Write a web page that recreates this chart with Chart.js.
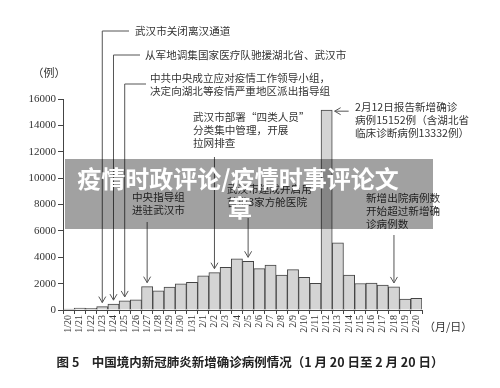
<!DOCTYPE html>
<html>
<head>
<meta charset="utf-8">
<script src="https://cdn.jsdelivr.net/npm/chart.js@4"></script>
<style>
  html, body { margin: 0; padding: 0; background: #fff; }
  canvas { display: block; }
</style>
</head>
<body>
<canvas id="casesChart" width="500" height="388"></canvas>
<script>
const days = [
    '1/20', '1/21', '1/22', '1/23', '1/24', '1/25', '1/26', '1/27', '1/28', '1/29', '1/30', '1/31',
    '2/1', '2/2', '2/3', '2/4', '2/5', '2/6', '2/7', '2/8', '2/9', '2/10',
    '2/11', '2/12', '2/13', '2/14', '2/15', '2/16', '2/17', '2/18', '2/19', '2/20'
];
const newCases = [
    77, 149, 131, 259, 444, 688, 769, 1771, 1459, 1737, 1982, 2102,
    2590, 2829, 3235, 3887, 3694, 3143, 3399, 2656, 3062, 2478,
    2015, 15152, 5090, 2641, 2009, 2048, 1886, 1749, 820, 889
];
const yTicks = [0, 2000, 4000, 6000, 8000, 10000, 12000, 14000, 16000];

const cjk = '"Noto Sans CJK SC", sans-serif';
const serif = '"Liberation Serif", "DejaVu Serif", serif';

// notes: text lines, where they sit, and which bar the arrow points at
const notes = [
    { lines: ['武汉市关闭离汉通道'], x: 135, y: 31, day: '1/23', elbow: [103, 31, 129] },
    { lines: ['从军地调集国家医疗队驰援湖北省、武汉市'], x: 145, y: 55, day: '1/24', elbow: [114, 55, 140] },
    { lines: ['中共中央成立应对疫情工作领导小组，', '决定向湖北等疫情严重地区派出指导组'], x: 150, y: 78, day: '1/25', elbow: [125, 84, 146] },
    { lines: ['中央指导组', '进驻武汉市'], x: 132, y: 197, day: '1/27', from: 222 },
    { lines: ['武汉市部署“四类人员”', '分类集中管理，开展', '拉网排查'], x: 193, y: 117, day: '2/2', from: 157 },
    { lines: ['武汉市建成并启用', '首批3家方舱医院'], x: 227, y: 189, day: '2/5', from: 218 },
    { lines: ['2月12日报告新增确诊', '病例15152例（含湖北省', '临床诊断病例13332例）'], x: 355, y: 107, day: '2/12', side: true },
    { lines: ['新增出院病例数', '开始超过新增确', '诊病例数'], x: 366, y: 198, day: '2/18', from: 235 }
];

const arrowHead = (ctx, x, y, dir) => {
    ctx.beginPath();
    if (dir === 'down') {
        ctx.moveTo(x - 3.5, y - 6); ctx.lineTo(x, y); ctx.lineTo(x + 3.5, y - 6);
    } else {
        ctx.moveTo(x + 6, y - 3.5); ctx.lineTo(x, y); ctx.lineTo(x + 6, y + 3.5);
    }
    ctx.stroke();
};

const notesPlugin = {
    id: 'notes',
    afterDraw(chart) {
        const ctx = chart.ctx;
        const xs = chart.scales.x;
        const ys = chart.scales.y;
        ctx.save();

        // axis captions
        ctx.fillStyle = '#333';
        ctx.font = '11px ' + cjk;
        ctx.textBaseline = 'middle';
        ctx.textAlign = 'center';
        ctx.fillText('（例）', 49, 73);
        ctx.textAlign = 'left';
        ctx.fillText('（月/日）', 424, 327);

        // annotations
        ctx.strokeStyle = '#555';
        ctx.lineWidth = 1;
        notes.forEach(n => {
            ctx.font = '10.6px ' + cjk;
            ctx.fillStyle = '#333';
            ctx.textAlign = 'left';
            n.lines.forEach((t, i) => ctx.fillText(t, n.x, n.y + i * 13));

            const i = days.indexOf(n.day);
            const bx = xs.getPixelForValue(i);
            const top = ys.getPixelForValue(newCases[i]);
            if (n.side) {
                const ax = bx + 8;
                ctx.beginPath();
                ctx.moveTo(ax + 14, top + 1);
                ctx.lineTo(ax, top + 1);
                ctx.stroke();
                arrowHead(ctx, ax, top + 1, 'left');
                return;
            }
            const tip = top - 4;
            ctx.beginPath();
            if (n.elbow) {
                ctx.moveTo(n.elbow[2], n.elbow[1]);
                ctx.lineTo(bx, n.elbow[1]);
                ctx.lineTo(bx, tip);
            } else {
                ctx.moveTo(bx, n.from);
                ctx.lineTo(bx, tip);
            }
            ctx.stroke();
            arrowHead(ctx, bx, tip, 'down');
        });

        // caption
        ctx.fillStyle = '#222';
        ctx.font = 'bold 12.5px ' + cjk;
        ctx.textAlign = 'center';
        ctx.fillText('图 5　中国境内新冠肺炎新增确诊病例情况（1 月 20 日至 2 月 20 日）', 250, 362);

        // watermark band
        ctx.fillStyle = 'rgba(0, 0, 0, 0.37)';
        ctx.fillRect(65, 159, 368, 70);
        ctx.fillStyle = '#fff';
        ctx.font = 'bold 24px ' + cjk;
        ctx.fillText('疫情时政评论/疫情时事评论文', 238, 179);
        ctx.fillText('章', 240, 208);

        ctx.restore();
    }
};

new Chart(document.getElementById('casesChart').getContext('2d'), {
    type: 'bar',
    data: {
        labels: days,
        datasets: [{
            label: '新增确诊病例',
            data: newCases,
            backgroundColor: '#d4d4d4',
            borderColor: '#444',
            borderWidth: 1,
            barPercentage: 1,
            categoryPercentage: 1
        }]
    },
    options: {
        responsive: false,
        animation: false,
        devicePixelRatio: 1,
        layout: { padding: { top: 99, right: 78, left: 0, bottom: 0 } },
        plugins: {
            legend: { display: false },
            tooltip: { enabled: false }
        },
        scales: {
            x: {
                grid: { drawOnChartArea: false, drawTicks: true, tickLength: 4, color: '#444', offset: true },
                border: { display: true, color: '#444' },
                ticks: {
                    autoSkip: false,
                    minRotation: 90,
                    maxRotation: 90,
                    padding: 1,
                    color: '#333',
                    font: { family: serif, size: 10 }
                },
                afterFit: (s) => { s.height = 78; }
            },
            y: {
                min: 0,
                max: 16000,
                afterBuildTicks: (s) => { s.ticks = yTicks.map(v => ({ value: v })); },
                grid: { drawOnChartArea: false, drawTicks: true, tickLength: 5, color: '#444' },
                border: { display: true, color: '#444' },
                ticks: {
                    padding: 2,
                    color: '#333',
                    font: { family: serif, size: 11 },
                    callback: (v) => String(v)
                },
                afterFit: (s) => { s.width = 63; }
            }
        }
    },
    plugins: [notesPlugin]
});
</script>
</body>
</html>
